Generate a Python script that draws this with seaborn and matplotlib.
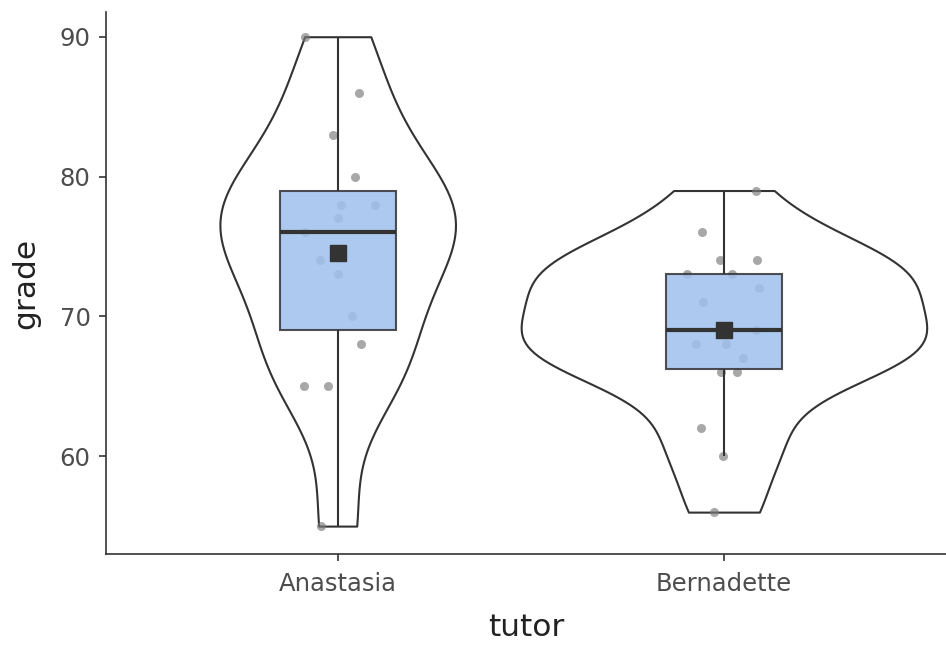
import numpy as np
import pandas as pd
import matplotlib
matplotlib.use("Agg")
import matplotlib.pyplot as plt
import seaborn as sns

# grades
tutors = ["Anastasia", "Bernadette"]
anastasia = [90, 86, 83, 80, 78, 78, 77, 76, 74, 73, 70, 68, 65, 65, 55]
bernadette = [79, 76, 74, 74, 73, 73, 72, 71, 69, 69, 68, 68, 67, 66, 66, 62, 60, 56]
y_ticks = [60, 70, 80, 90]

df = pd.DataFrame({
    "tutor": ["Anastasia"] * len(anastasia) + ["Bernadette"] * len(bernadette),
    "grade": anastasia + bernadette,
})

sns.set_theme(style="ticks")
plt.rcParams["font.family"] = ["DejaVu Sans"]

dark = "#333333"
fig = plt.figure(figsize=(9.46, 6.45), dpi=100)
ax = fig.add_axes([0.112, 0.141, 0.888, 0.84])

# one violin per call so each gets its own width
for name, w in zip(tutors, [0.61, 1.05]):
    sns.violinplot(data=df[df["tutor"] == name], x="tutor", y="grade", order=tutors,
                   color="white", cut=0, inner=None, width=w, bw_adjust=0.77,
                   linewidth=1.5, linecolor=dark, ax=ax)
for c in ax.collections:
    c.set_edgecolor(dark)
    c.set_facecolor("white")
    c.set_zorder(1)

np.random.seed(7)
sns.stripplot(data=df, x="tutor", y="grade", order=tutors, color="#7a7a7a",
              alpha=0.65, size=6.5, jitter=0.1, linewidth=0, ax=ax, zorder=2)

sns.boxplot(data=df, x="tutor", y="grade", order=tutors, width=0.3,
            color="#9fc0ee", saturation=1, linecolor=dark, linewidth=1.5,
            showcaps=False, showfliers=False, showmeans=True,
            boxprops=dict(alpha=0.85, zorder=3),
            medianprops=dict(linewidth=3, color=dark, zorder=4),
            whiskerprops=dict(zorder=3),
            meanprops=dict(marker="s", markerfacecolor=dark, markeredgecolor=dark,
                           markersize=11.5, zorder=5),
            ax=ax)

ax.set_xlim(-0.6, 1.575)
ax.set_ylim(53.0, 91.75)
ax.set_yticks(y_ticks)
ax.set_xlabel("tutor", fontsize=22.5, color="#222222", labelpad=12)
ax.set_ylabel("grade", fontsize=22.5, color="#222222", labelpad=14)
ax.tick_params(axis="both", labelsize=17.5, labelcolor="#4d4d4d", color=dark,
               length=5, width=1.2)
ax.tick_params(axis="x", pad=8)
ax.tick_params(axis="y", pad=6)
sns.despine(ax=ax)
for s in ["left", "bottom"]:
    ax.spines[s].set_color(dark)
    ax.spines[s].set_linewidth(1.2)

fig.savefig("out.png", dpi=100)
